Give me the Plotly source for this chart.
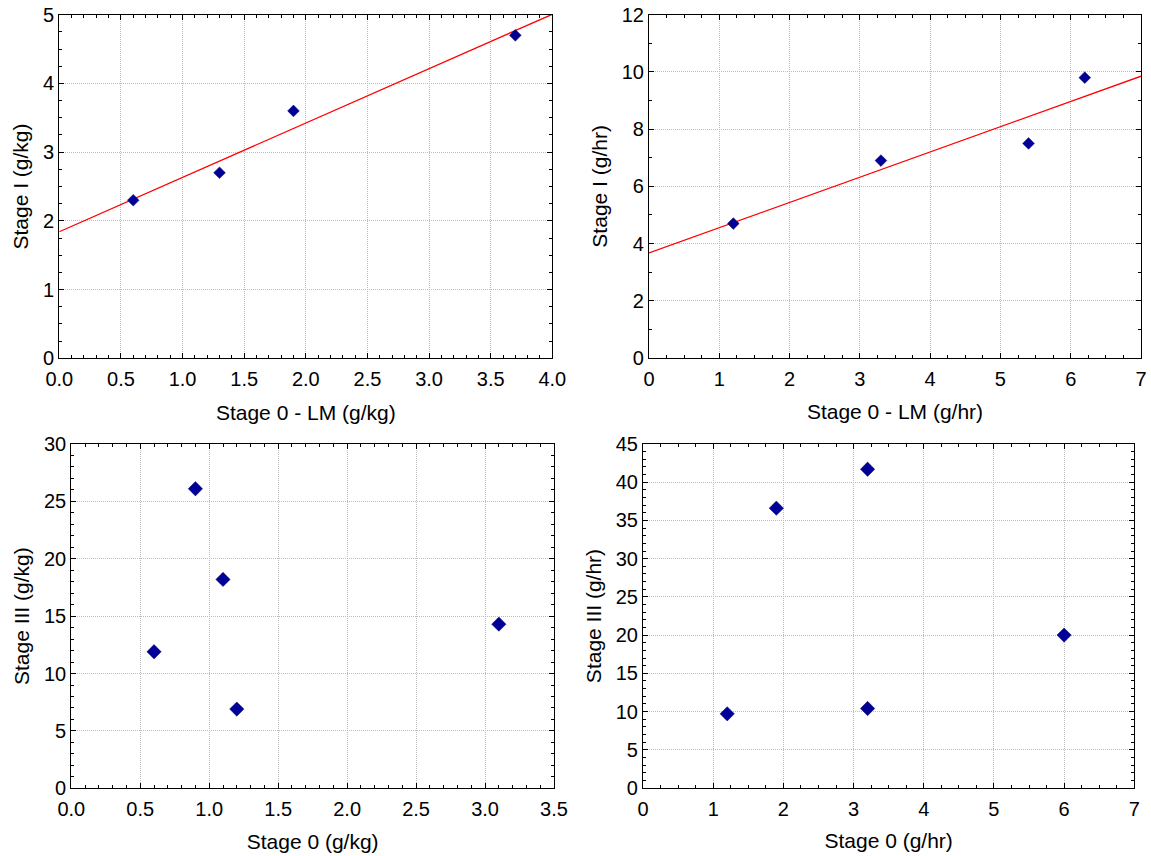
import numpy as np
import plotly.graph_objects as go

# Panel A: Stage 0 - LM (g/kg) vs Stage I (g/kg)
a_x = [0.6, 1.3, 1.9, 3.7]
a_y = [2.3, 2.7, 3.6, 4.7]
# Panel B: Stage 0 - LM (g/hr) vs Stage I (g/hr)
b_x = [1.2, 3.3, 5.4, 6.2]
b_y = [4.7, 6.9, 7.5, 9.8]
# Panel C: Stage 0 (g/kg) vs Stage III (g/kg)
c_x = [0.6, 0.9, 1.1, 1.2, 3.1]
c_y = [11.9, 26.1, 18.2, 6.9, 14.3]
# Panel D: Stage 0 (g/hr) vs Stage III (g/hr)
d_x = [1.2, 1.9, 3.2, 3.2, 6.0]
d_y = [9.7, 36.6, 41.7, 10.4, 20.0]

W, H = 1151, 856
FONT = "Liberation Sans, Arial, sans-serif"
NAVY = "#000099"
GRID = "#bdbdbd"

fig = go.Figure()

def fit_line(xs, ys, x0, x1):
    m, b = np.polyfit(xs, ys, 1)
    xx = np.array([x0, x1])
    return xx, m * xx + b

panels = [
    (a_x, a_y, 59.3, 552.3, 14.7, 358.3, [0, 4], [0, 5], 0.5, 1, 0.1, 0.25, ".1f", "Stage 0 - LM (g/kg)", "Stage I (g/kg)", True, 9, 15),
    (b_x, b_y, 649, 1141, 14.7, 358.0, [0, 7], [0, 12], 1, 2, 0.25, 1, "d", "Stage 0 - LM (g/hr)", "Stage I (g/hr)", True, 9, 15),
    (c_x, c_y, 71.3, 554, 444, 788.3, [0, 3.5], [0, 30], 0.5, 5, 0.1, 1, ".1f", "Stage 0 (g/kg)", "Stage III (g/kg)", False, 11, 14),
    (d_x, d_y, 643, 1134.3, 444, 788, [0, 7], [0, 45], 1, 5, 0.25, 1, "d", "Stage 0 (g/hr)", "Stage III (g/hr)", False, 11, 14),
]

layout = {}
for i, (xs, ys, pl, pr, pt, pb, xr, yr, xd, yd, xm, ym, xf, xt, yt, fit, ms, xso) in enumerate(panels):
    n = "" if i == 0 else str(i + 1)
    xa, ya = "x" + n, "y" + n
    if fit:
        lx, ly = fit_line(xs, ys, xr[0], xr[1])
        fig.add_trace(go.Scatter(x=lx, y=ly, mode="lines", xaxis=xa, yaxis=ya,
                                 line=dict(color="#ff0000", width=1.3), showlegend=False,
                                 hoverinfo="skip"))
    fig.add_trace(go.Scatter(x=xs, y=ys, mode="markers", xaxis=xa, yaxis=ya,
                             marker=dict(symbol="diamond", size=ms, color=NAVY,
                                         line=dict(color="#000066", width=0.5)),
                             showlegend=False))
    common = dict(showline=True, linecolor="black", linewidth=1.2, mirror="allticks",
                  ticks="inside", ticklen=5, tickcolor="black", tickwidth=1,
                  showgrid=True, gridcolor=GRID, griddash="1px,1px", gridwidth=1,
                  zeroline=False, tickfont=dict(family=FONT, size=20, color="black"),
                  fixedrange=True, automargin=False, ticklabeloverflow="allow")
    layout["xaxis" + n] = dict(
        common, domain=[pl / W, pr / W], range=xr, anchor=ya, dtick=xd, tick0=0,
        tickformat=xf, ticklabelstandoff=3,
        minor=dict(dtick=xm, ticks="inside", ticklen=3, tickcolor="black", showgrid=False),
        title=dict(text=xt, font=dict(family=FONT, size=21, color="black"), standoff=xso),
    )
    layout["yaxis" + n] = dict(
        common, domain=[(H - pb) / H, (H - pt) / H], range=yr, anchor=xa, dtick=yd, tick0=0,
        minor=dict(dtick=ym, ticks="inside", ticklen=3, tickcolor="black", showgrid=False),
        title=dict(text=yt, font=dict(family=FONT, size=21, color="black"), standoff=8),
    )

fig.update_layout(
    width=W, height=H,
    margin=dict(l=0, r=0, t=0, b=0),
    paper_bgcolor="white", plot_bgcolor="white",
    font=dict(family=FONT, color="black"),
    **layout,
)

# remove the browser's default page margin so the figure sits at the window's corner
fig.write_html("out.html", config={"displayModeBar": False},
               post_script="document.body.style.margin='0';")
